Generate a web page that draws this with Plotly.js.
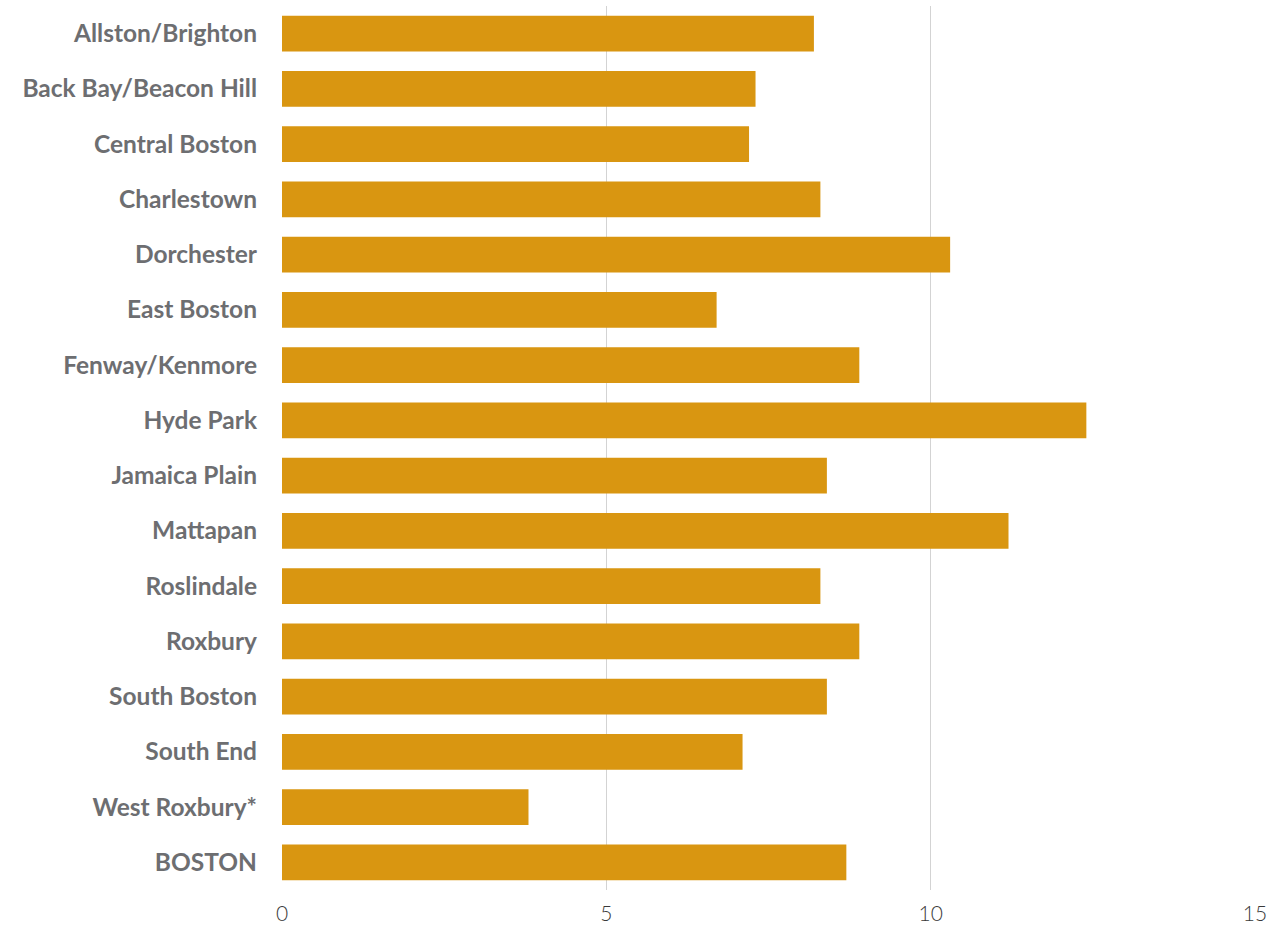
<!DOCTYPE html>
<html>
<head>
<meta charset="utf-8">
<script src="https://cdn.plot.ly/plotly-3.0.1.min.js"></script>
<style>html,body{margin:0;padding:0;background:#fff;}#chart{width:1276px;height:928px;}</style>
</head>
<body>
<div id="chart"></div>
<script>
const neighborhoods = ["Allston/Brighton","Back Bay/Beacon Hill","Central Boston","Charlestown","Dorchester","East Boston","Fenway/Kenmore","Hyde Park","Jamaica Plain","Mattapan","Roslindale","Roxbury","South Boston","South End","West Roxbury*","BOSTON"];
const values = [8.2,7.3,7.2,8.3,10.3,6.7,8.9,12.4,8.4,11.2,8.3,8.9,8.4,7.1,3.8,8.7];
const xTicks = [0,5,10,15];

const trace = {
  type: "bar",
  orientation: "h",
  y: neighborhoods,
  x: values,
  marker: {color: "#D99611"},
  hoverinfo: "x+y"
};

const layout = {
  width: 1276, height: 928,
  margin: {l: 282, r: 21, t: 6, b: 38},
  paper_bgcolor: "#fff", plot_bgcolor: "#fff",
  bargap: 0.35,
  showlegend: false,
  xaxis: {
    range: [0, 15],
    tickvals: xTicks,
    ticktext: xTicks.map(String),
    showgrid: true, gridcolor: "#d3d3d3", gridwidth: 1,
    zeroline: false, showline: false, ticks: "",
    ticklabelstandoff: 9,
    tickfont: {family: "Lato", size: 21, color: "#3a3a3a", weight: 300}
  },
  yaxis: {
    autorange: "reversed",
    categoryorder: "array", categoryarray: neighborhoods,
    showgrid: false, zeroline: false, showline: false, ticks: "",
    ticklabelstandoff: 24,
    tickfont: {family: "Lato", size: 24.5, color: "#6d6e71", weight: 700}
  }
};

Plotly.newPlot("chart", [trace], layout, {displayModeBar: false, staticPlot: true});
</script>
</body>
</html>
